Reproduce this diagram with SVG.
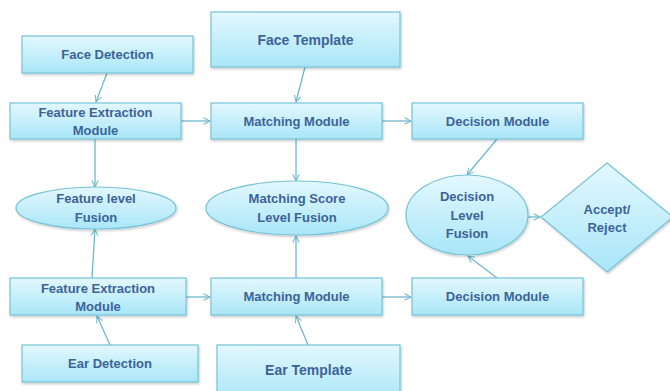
<svg xmlns="http://www.w3.org/2000/svg" width="670" height="391" viewBox="0 0 670 391">
  <defs>
    <linearGradient id="fillGrad" x1="0" y1="0" x2="0" y2="1">
      <stop offset="0" stop-color="#e3f8fe"/>
      <stop offset="1" stop-color="#a9e6f8"/>
    </linearGradient>
    <filter id="shadow" x="-10%" y="-10%" width="125%" height="130%">
      <feDropShadow dx="1" dy="1.5" stdDeviation="1" flood-color="#000" flood-opacity="0.22"/>
    </filter>
    <marker id="arrow" viewBox="0 0 10 10" refX="9" refY="5" markerWidth="8" markerHeight="8" orient="auto" markerUnits="userSpaceOnUse">
      <path d="M1,1 L9,5 L1,9" fill="none" stroke="#6fb8cc" stroke-width="1.3"/>
    </marker>
  </defs>
  <style>
    .shape { fill: url(#fillGrad); stroke: #75c3d8; stroke-width: 1.2; filter: url(#shadow); }
    .label { font-family: "Liberation Sans", Arial, sans-serif; font-weight: bold; font-size: 13px; fill: #3d6398; text-anchor: middle; }
    .big { font-size: 14px; }
    .conn line { stroke: #6fb8cc; stroke-width: 1.3; marker-end: url(#arrow); }
  </style>
  <rect width="670" height="391" fill="#ffffff"/>

  <!-- connectors -->
  <g id="connectors" class="conn">
    <line x1="107" y1="73" x2="96" y2="102"/>
    <line x1="305" y1="67" x2="296" y2="102"/>
    <line x1="181" y1="121" x2="210" y2="121"/>
    <line x1="382" y1="121" x2="411" y2="121"/>
    <line x1="95" y1="139" x2="95" y2="187"/>
    <line x1="296" y1="139" x2="296" y2="181"/>
    <line x1="497" y1="139" x2="467" y2="175"/>
    <line x1="528" y1="217" x2="540" y2="217"/>
    <line x1="92" y1="278" x2="95" y2="229"/>
    <line x1="296" y1="278" x2="296" y2="236"/>
    <line x1="497" y1="278" x2="468" y2="256"/>
    <line x1="186" y1="297" x2="210" y2="297"/>
    <line x1="382" y1="297" x2="411" y2="297"/>
    <line x1="110" y1="345" x2="97" y2="316"/>
    <line x1="308" y1="345" x2="296" y2="316"/>
  </g>

  <!-- top row -->
  <g id="face-detection">
    <rect class="shape" x="22" y="36" width="171" height="37"/>
    <text class="label" x="107.5" y="59">Face Detection</text>
  </g>
  <g id="face-template">
    <rect class="shape" x="211" y="12" width="189" height="55"/>
    <text class="label big" x="305.5" y="45">Face Template</text>
  </g>
  <g id="feature-extraction-face">
    <rect class="shape" x="10" y="103" width="171" height="36"/>
    <text class="label" x="95.5" y="117">Feature Extraction</text>
    <text class="label" x="95.5" y="135">Module</text>
  </g>
  <g id="matching-face">
    <rect class="shape" x="211" y="103" width="171" height="36"/>
    <text class="label" x="296.5" y="126">Matching Module</text>
  </g>
  <g id="decision-face">
    <rect class="shape" x="412" y="103" width="171" height="36"/>
    <text class="label" x="497.5" y="126">Decision Module</text>
  </g>

  <!-- fusion row -->
  <g id="feature-fusion">
    <ellipse class="shape" cx="96" cy="208" rx="80" ry="21"/>
    <text class="label" x="96" y="203">Feature level</text>
    <text class="label" x="96" y="222">Fusion</text>
  </g>
  <g id="score-fusion">
    <ellipse class="shape" cx="297" cy="208" rx="91" ry="27"/>
    <text class="label" x="297" y="203">Matching Score</text>
    <text class="label" x="297" y="222">Level Fusion</text>
  </g>
  <g id="decision-fusion">
    <ellipse class="shape" cx="467" cy="215" rx="61" ry="40"/>
    <text class="label" x="467" y="201">Decision</text>
    <text class="label" x="467" y="220">Level</text>
    <text class="label" x="467" y="238">Fusion</text>
  </g>
  <g id="accept-reject">
    <polygon class="shape" points="607,163 673,217 607,272 541,217"/>
    <text class="label" x="607" y="214">Accept/</text>
    <text class="label" x="607" y="232">Reject</text>
  </g>

  <!-- bottom row -->
  <g id="feature-extraction-ear">
    <rect class="shape" x="10" y="278" width="176" height="37"/>
    <text class="label" x="98" y="293">Feature Extraction</text>
    <text class="label" x="98" y="311">Module</text>
  </g>
  <g id="matching-ear">
    <rect class="shape" x="211" y="278" width="171" height="37"/>
    <text class="label" x="296.5" y="301">Matching Module</text>
  </g>
  <g id="decision-ear">
    <rect class="shape" x="412" y="278" width="171" height="37"/>
    <text class="label" x="497.5" y="301">Decision Module</text>
  </g>
  <g id="ear-detection">
    <rect class="shape" x="22" y="345" width="176" height="37"/>
    <text class="label" x="110" y="368">Ear Detection</text>
  </g>
  <g id="ear-template">
    <rect class="shape" x="217" y="345" width="183" height="56"/>
    <text class="label big" x="308.5" y="375">Ear Template</text>
  </g>
</svg>
